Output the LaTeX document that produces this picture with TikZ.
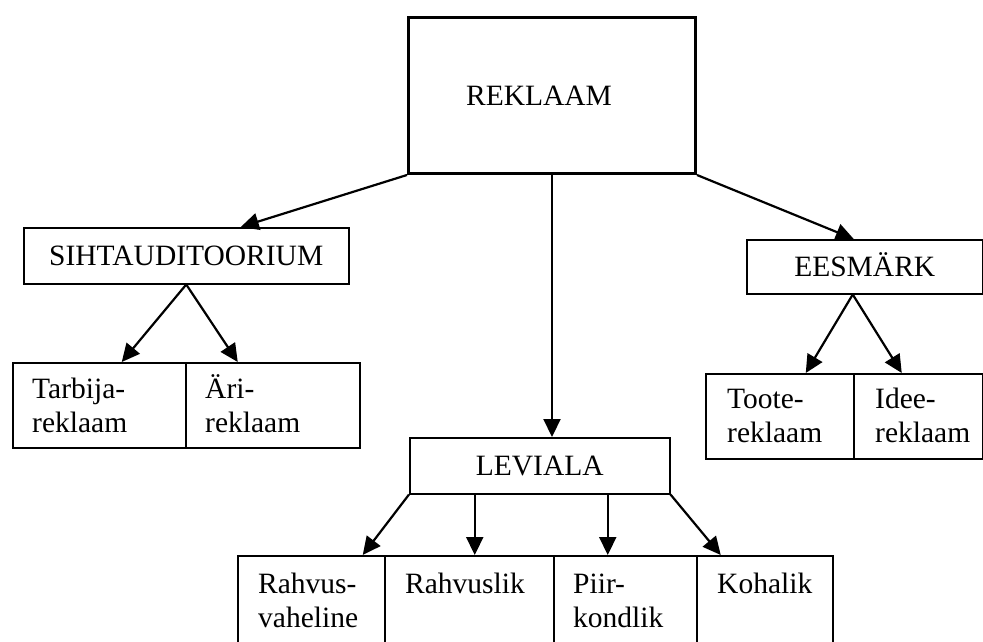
\documentclass[tikz,border=0pt]{standalone}
\usepackage{fontspec}
\setmainfont{Liberation Serif}
\usetikzlibrary{arrows.meta}

\tikzset{
  every node/.style={font=\fontsize{29.5}{34}\selectfont},
  kast/.style 2 args={draw, line width=1.5pt, anchor=north west, inner sep=0pt,
    minimum width=#1, minimum height=#2, text height=19.5pt, text depth=0pt},
  silt/.style={anchor=base west, align=left, inner sep=0pt},
  pil/.style={-{Triangle[length=18pt,width=17pt]}, line width=2.2pt}
}

\begin{document}
\begin{tikzpicture}[x=1pt, y=-1pt]
  \useasboundingbox (0,0) rectangle (983,642);
  \clip (0,0) rectangle (983,642);

  % Peamine kast
  \node[kast={287pt}{156pt}, line width=3pt] (reklaam) at (407,16) {};
  \node[inner sep=0pt, text height=19.5pt, text depth=0pt] (reklaamtxt) at (539,96) {REKLAAM};

  % Teine tase
  \node[kast={325pt}{56pt}] (siht) at (23,227) {SIHTAUDITOORIUM};
  \node[kast={236pt}{54pt}] (eesmark) at (746,239) {EESMÄRK};
  \node[kast={260pt}{56pt}] (leviala) at (409,437) {LEVIALA};

  % Kolmas tase
  \node[kast={173pt}{85pt}] (tarbija) at (12,362) {};
  \node[kast={174pt}{85pt}] (ari) at (185,362) {};
  \node[kast={148pt}{85pt}] (toote) at (705,373) {};
  \node[kast={129pt}{85pt}] (idee) at (853,373) {};
  \node[kast={147pt}{100pt}] (rahvus) at (237,555) {};
  \node[kast={169pt}{100pt}] (rahvuslik) at (384,555) {};
  \node[kast={143pt}{100pt}] (piir) at (553,555) {};
  \node[kast={136pt}{100pt}] (kohalik) at (696,555) {};

  % Tekstid (base = viimase rea alusjoon)
  \node[silt] (tarbijatxt) at ([xshift=20pt, yshift=-70pt]tarbija.north west) {Tarbija-\\reklaam};
  \node[silt] (aritxt) at ([xshift=20pt, yshift=-70pt]ari.north west) {Äri-\\reklaam};
  \node[silt] (tootetxt) at ([xshift=22pt, yshift=-69pt]toote.north west) {Toote-\\reklaam};
  \node[silt] (ideetxt) at ([xshift=22pt, yshift=-69pt]idee.north west) {Idee-\\reklaam};
  \node[silt] (rahvustxt) at ([xshift=21pt, yshift=-72pt]rahvus.north west) {Rahvus-\\vaheline};
  \node[silt] (rahvusliktxt) at ([xshift=21pt, yshift=-38pt]rahvuslik.north west) {Rahvuslik};
  \node[silt] (piirtxt) at ([xshift=20pt, yshift=-72pt]piir.north west) {Piir-\\kondlik};
  \node[silt] (kohaliktxt) at ([xshift=21pt, yshift=-38pt]kohalik.north west) {Kohalik};

  % Nooled
  \draw[pil] (reklaam.south west) -- ([xshift=54.5pt]siht.north);
  \draw[pil] (reklaam.south) -- (reklaam.south |- leviala.north);
  \draw[pil] (reklaam.south east) -- ([xshift=-11pt]eesmark.north);

  \draw[pil] (siht.south) -- ([xshift=22.5pt]tarbija.north);
  \draw[pil] (siht.south) -- ([xshift=-35pt]ari.north);

  \draw[pil] ([xshift=-12pt]eesmark.south) -- ([xshift=26pt]toote.north);
  \draw[pil] ([xshift=-12pt]eesmark.south) -- ([xshift=-16.5pt]idee.north);

  \draw[pil] (leviala.south west) -- ([xshift=51.5pt]rahvus.north);
  \draw[pil] ([xshift=-65pt]leviala.south) -- ([xshift=-65pt]leviala.south |- rahvuslik.north);
  \draw[pil] ([xshift=68pt]leviala.south) -- ([xshift=68pt]leviala.south |- piir.north);
  \draw[pil] (leviala.south east) -- ([xshift=-44pt]kohalik.north);
\end{tikzpicture}
\end{document}
